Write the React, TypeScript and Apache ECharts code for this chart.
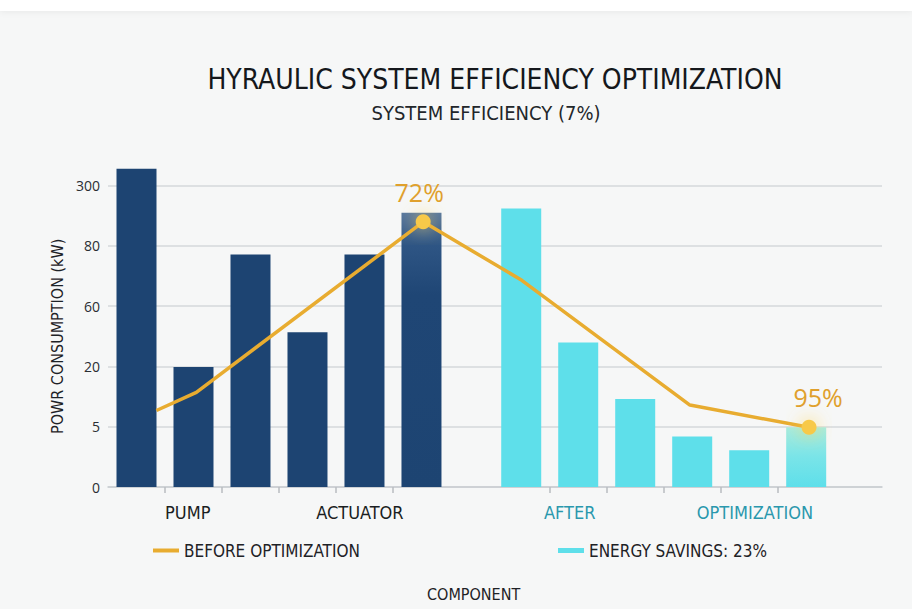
import React, { useEffect, useRef } from "react";
import * as echarts from "echarts";

// Y axis is drawn on an evenly spaced index scale; tick labels as printed in the chart
const yTickLabels = ["0", "5", "20", "60", "80", "300"];

// Bar heights, read on the index scale of the y axis
const beforeBars = [5.28, 1.99, 3.86, 2.57, 3.86, 4.55];
const afterBars = [4.62, 2.4, 1.46, 0.84, 0.61, 0.99];

// Efficiency line vertices (x on the slot scale, y on the index scale)
const lineX = [0.85, 1.55, 5.53, 7.26, 10.21, 12.3];
const lineY = [1.27, 1.57, 4.4, 3.43, 1.36, 0.99];
const lineLabels = ["", "", "72%", "", "", "95%"];

// Group labels under the x axis
const groupLabels = ["PUMP", "ACTUATOR", "AFTER", "OPTIMIZATION"];
const groupLabelX = [1.4, 4.42, 8.1, 11.35];

const titleText = "HYRAULIC SYSTEM EFFICIENCY OPTIMIZATION";
const subtitleText = "SYSTEM EFFICIENCY (7%)";
const yName = "POWR CONSUMPTION (kW)";
const xName = "COMPONENT";
const lineName = "BEFORE OPTIMIZATION";
const savingsName = "ENERGY SAVINGS: 23%";

const NARROW = '"Liberation Sans Narrow", "DejaVu Sans Condensed", "Open Sans", sans-serif';
const SANS = '"Open Sans", "Noto Sans", sans-serif';

export default function App() {
  const ref = useRef<HTMLDivElement>(null);

  useEffect(() => {
    if (!ref.current) return;
    const chart = echarts.init(ref.current, null, { renderer: "svg" });

    const beforeOffset = 0.5;
    const afterOffset = 7.25;
    const beforeX = beforeBars.map((_, i) => i + beforeOffset);
    const afterX = afterBars.map((_, i) => i + afterOffset);
    const tickVals: number[] = [];
    for (let i = 0; i < beforeX.length - 1; i++) tickVals.push((beforeX[i] + beforeX[i + 1]) / 2);
    for (let i = 0; i < afterX.length - 1; i++) tickVals.push((afterX[i] + afterX[i + 1]) / 2);

    const labelMap: Record<string, number> = {};
    groupLabelX.forEach((x, i) => (labelMap[x.toFixed(3)] = i));

    const darkColor = "#1d4472";
    const cyanColor = "#5edfea";

    chart.setOption({
      animation: false,
      backgroundColor: "#f6f7f7",
      graphic: [
        {
          type: "rect",
          left: 0,
          top: 0,
          shape: { width: 912, height: 11 },
          style: { fill: "#ffffff", shadowBlur: 6, shadowColor: "rgba(0,0,0,0.06)", shadowOffsetY: 1 },
          z: 10,
        },
        {
          type: "text",
          left: 427,
          top: 586,
          style: { text: xName, font: `16px ${NARROW}`, fill: "#1e2226" },
        },
      ],
      title: [
        {
          text: titleText,
          left: 490,
          top: 60,
          textAlign: "center",
          textStyle: { fontFamily: NARROW, fontSize: 28, fontWeight: "normal", color: "#15181c" },
        },
        {
          text: subtitleText,
          left: 481,
          top: 98,
          textAlign: "center",
          textStyle: { fontFamily: NARROW, fontSize: 20, fontWeight: "normal", color: "#22262a" },
        },
      ],
      legend: [
        {
          data: [lineName],
          left: 148,
          top: 537,
          icon: "rect",
          itemWidth: 26,
          itemHeight: 4,
          itemGap: 6,
          textStyle: { fontFamily: NARROW, fontSize: 17, color: "#1e2226" },
        },
        {
          data: [savingsName],
          left: 553,
          top: 537,
          icon: "rect",
          itemWidth: 26,
          itemHeight: 5,
          textStyle: { fontFamily: NARROW, fontSize: 17, color: "#1e2226" },
        },
      ],
      grid: { left: 108, right: 30, top: 185.7, bottom: 122, containLabel: false },
      xAxis: {
        type: "value",
        min: 0,
        max: 13.58,
        splitLine: { show: false },
        axisLine: { show: true, lineStyle: { color: "#c9cdd1", width: 1.5 } },
        axisTick: {
          show: true,
          customValues: tickVals,
          length: 6,
          lineStyle: { color: "#b9bdc1", width: 1.5 },
        },
        axisLabel: {
          show: true,
          customValues: groupLabelX,
          margin: 16,
          formatter: (v: number) => {
            const idx = labelMap[v.toFixed(3)];
            if (idx === undefined) return "";
            return idx < 2 ? `{d|${groupLabels[idx]}}` : `{c|${groupLabels[idx]}}`;
          },
          rich: {
            d: { fontFamily: NARROW, fontSize: 18, color: "#1a1e22" },
            c: { fontFamily: NARROW, fontSize: 18, color: "#2a98ad" },
          },
        },
      },
      yAxis: {
        type: "value",
        min: 0,
        max: 5,
        interval: 1,
        name: yName,
        nameLocation: "middle",
        nameGap: 40,
        nameTextStyle: { fontFamily: NARROW, fontSize: 16, color: "#1e2226" },
        axisLine: { show: false },
        axisTick: { show: false },
        axisLabel: {
          formatter: (v: number) => yTickLabels[Math.round(v)] ?? "",
          fontFamily: SANS,
          fontSize: 14,
          color: "#2a2e33",
          margin: 8,
        },
        splitLine: { show: true, lineStyle: { color: "#d5d8db", width: 1.5 } },
      },
      series: [
        {
          name: "Before",
          type: "bar",
          barWidth: 40,
          barGap: "-100%",
          clip: false,
          data: beforeBars.map((v, i) => {
            const item: any = { value: [beforeX[i], v] };
            if (i === beforeBars.length - 1) {
              item.itemStyle = {
                color: new echarts.graphic.LinearGradient(0, 0, 0, 1, [
                  { offset: 0, color: "#57779e" },
                  { offset: 0.12, color: "#2e5584" },
                  { offset: 0.3, color: "#1f4675" },
                  { offset: 1, color: darkColor },
                ]),
              };
            }
            return item;
          }),
          itemStyle: { color: darkColor },
          z: 2,
        },
        {
          name: savingsName,
          type: "bar",
          barWidth: 40,
          barGap: "-100%",
          clip: false,
          data: afterBars.map((v, i) => {
            const item: any = { value: [afterX[i], v] };
            if (i === afterBars.length - 1) {
              item.itemStyle = {
                color: new echarts.graphic.LinearGradient(0, 0, 0, 1, [
                  { offset: 0, color: "#a6ebdf" },
                  { offset: 0.5, color: "#79e4e8" },
                  { offset: 1, color: cyanColor },
                ]),
              };
            }
            return item;
          }),
          itemStyle: { color: cyanColor },
          z: 2,
        },
        {
          name: lineName,
          type: "line",
          data: lineX.map((x, i) => {
            const item: any = { value: [x, lineY[i]], symbolSize: 0 };
            if (lineLabels[i]) {
              item.symbolSize = 15;
              item.symbol = "circle";
              item.itemStyle = {
                color: "#f7c94a",
                shadowBlur: 18,
                shadowColor: "rgba(255, 214, 90, 0.9)",
              };
              item.label = {
                show: true,
                formatter: lineLabels[i],
                position: "top",
                distance: 10,
                offset: i === 5 ? [9, 0] : [-4, 0],
                fontFamily: SANS,
                fontSize: 25,
                color: "#e0a02c",
              };
            }
            return item;
          }),
          showSymbol: true,
          symbol: "circle",
          lineStyle: { color: "#e8ac30", width: 3.5 },
          itemStyle: { color: "#e8ac30" },
          z: 5,
        },
      ],
    });

    return () => chart.dispose();
  }, []);

  return (
    <div
      style={{ position: "fixed", left: 0, top: 0, width: 912, height: 609, background: "#ffffff" }}
    >
      <div
        ref={ref}
        style={{ position: "absolute", left: 0, top: 0, width: 912, height: 609 }}
      />
    </div>
  );
}
